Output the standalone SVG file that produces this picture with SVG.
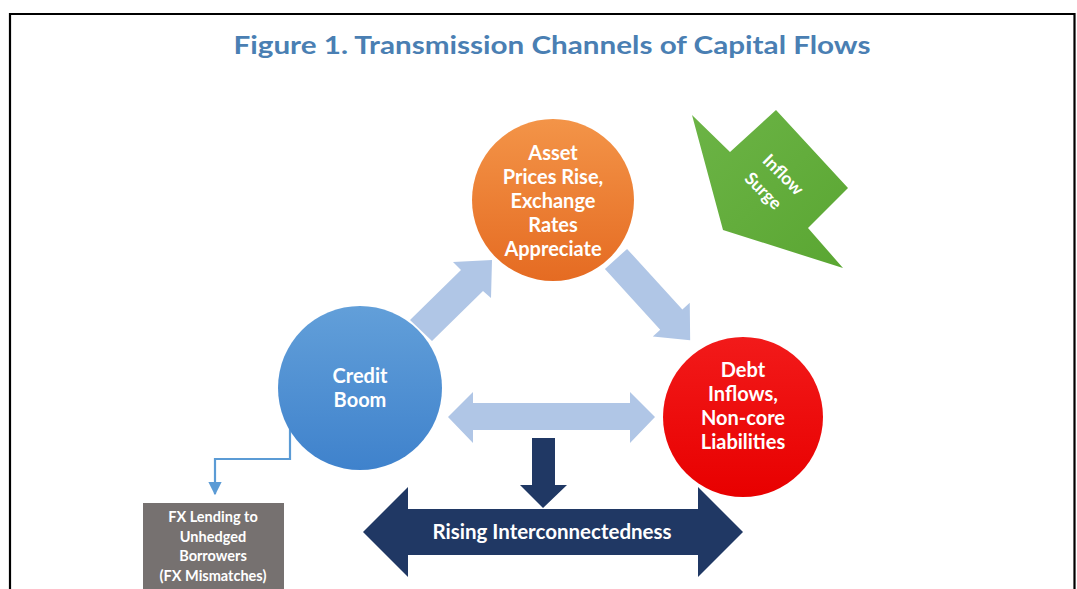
<svg xmlns="http://www.w3.org/2000/svg" width="1077" height="589" viewBox="0 0 1077 589">
<defs>
<linearGradient id="gOrange" x1="0" y1="0" x2="0" y2="1"><stop offset="0" stop-color="#f39448"/><stop offset="1" stop-color="#e56b22"/></linearGradient>
<linearGradient id="gBlue" x1="0" y1="0" x2="0" y2="1"><stop offset="0" stop-color="#629fd9"/><stop offset="1" stop-color="#3f82cc"/></linearGradient>
<linearGradient id="gRed" x1="0" y1="0" x2="0" y2="1"><stop offset="0" stop-color="#f21a1a"/><stop offset="1" stop-color="#e80000"/></linearGradient>
<linearGradient id="gGreen" x1="0" y1="0" x2="1" y2="1"><stop offset="0" stop-color="#6cb446"/><stop offset="1" stop-color="#5aa632"/></linearGradient>
<marker id="arr" viewBox="0 0 10 10" refX="9" refY="5" markerWidth="6" markerHeight="6" orient="auto" markerUnits="strokeWidth"><path d="M0,0 L10,5 L0,10 z" fill="#5b9bd5"/></marker>
<style>
.t{font-family:Lato,"Open Sans","Liberation Sans",sans-serif;font-weight:bold;fill:#ffffff;text-anchor:middle}
.node{font-size:20px}
.light{fill:#b0c6e6}
.navy{fill:#203864}
</style>
</defs>
<rect x="0" y="0" width="1077" height="589" fill="#ffffff"/>
<path d="M10,589 V14 H1074.5 V589" fill="none" stroke="#000" stroke-width="2.2"/>
<text x="552" y="54" font-family="Lato,'Open Sans','Liberation Sans',sans-serif" font-weight="bold" font-size="25" fill="#4a7fb3" text-anchor="middle" textLength="637" lengthAdjust="spacingAndGlyphs">Figure 1. Transmission Channels of Capital Flows</text>

<g id="connectors">
<polygon class="light" points="410,320 461,270 453,262 492,260 491,298 483,291 432,341"/>
<g transform="translate(616,259) rotate(47.6)"><polygon class="light" points="0,-15 82,-15 82,-25 110,0 82,25 82,15 0,15"/></g>
<polygon class="light" points="448,417 473,392 473,403 630,403 630,392 655,417 630,443 630,430 473,430 473,443"/>
<polygon class="navy" points="532,438 555,438 555,485 567,485 543,508 520,485 532,485"/>
<polyline points="290,427 290,459 215,459 215,494" fill="none" stroke="#5b9bd5" stroke-width="2.2" marker-end="url(#arr)"/>
</g>

<g id="inflow-surge">
<polygon points="692,115 730,152 776,110 848,188 808,228 843,268 723,230" fill="url(#gGreen)"/>
<text class="t" font-size="17.5" transform="translate(779,179) rotate(45)">Inflow</text>
<text class="t" font-size="17.5" transform="translate(759,195) rotate(45)">Surge</text>
</g>

<g id="asset-prices">
<circle cx="553" cy="200" r="81" fill="url(#gOrange)"/>
<text class="t node" x="553" y="160">Asset</text>
<text class="t node" x="553" y="184">Prices Rise,</text>
<text class="t node" x="553" y="208">Exchange</text>
<text class="t node" x="553" y="232">Rates</text>
<text class="t node" x="553" y="256">Appreciate</text>
</g>

<g id="credit-boom">
<circle cx="360" cy="388" r="82" fill="url(#gBlue)"/>
<text class="t node" x="360" y="383">Credit</text>
<text class="t node" x="360" y="407">Boom</text>
</g>

<g id="debt-inflows">
<circle cx="743" cy="417" r="80" fill="url(#gRed)"/>
<text class="t node" x="743" y="377">Debt</text>
<text class="t node" x="743" y="401">Inflows,</text>
<text class="t node" x="743" y="425">Non-core</text>
<text class="t node" x="743" y="449">Liabilities</text>
</g>

<g id="fx-lending">
<rect x="143" y="503" width="141" height="86" fill="#767170"/>
<text class="t" font-size="14.5" x="213" y="522">FX Lending to</text>
<text class="t" font-size="14.5" x="213" y="542">Unhedged</text>
<text class="t" font-size="14.5" x="213" y="561">Borrowers</text>
<text class="t" font-size="14.5" x="213" y="581">(FX Mismatches)</text>
</g>

<g id="rising-interconnectedness">
<polygon class="navy" points="363,532 408,487 408,509 698,509 698,487 743,532 698,577 698,555 408,555 408,577"/>
<text class="t" font-size="20.5" x="552" y="539">Rising Interconnectedness</text>
</g>
</svg>
